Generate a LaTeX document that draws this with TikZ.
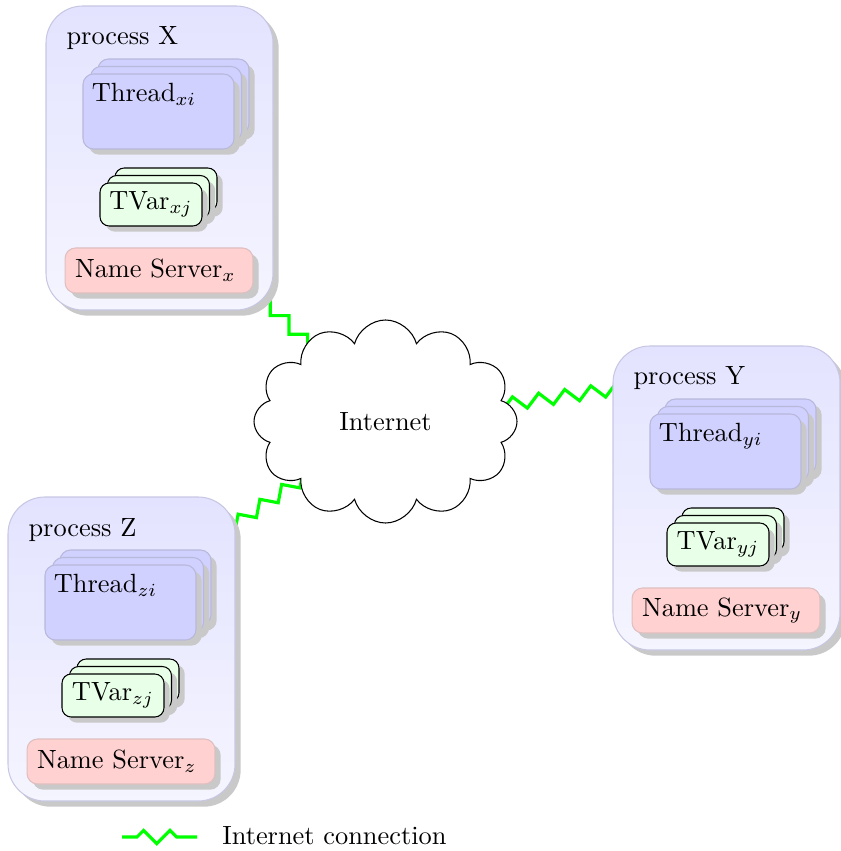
\documentclass[tikz,border=0pt]{standalone}
\usetikzlibrary{shapes.symbols,shadows,decorations.pathmorphing,calc}
\newdimen\pxu \pxu=0.37937pt
\pgfdeclarelayer{background}
\pgfsetlayers{background,main}
\tikzset{
  softshadow/.style={drop shadow={fill=black!21, opacity=1}},
  procbox/.style={draw=blue!50!black!22, top color=blue!11, bottom color=blue!4,
    rounded corners=14pt, minimum width=227\pxu, minimum height=304\pxu,
    inner sep=0pt, softshadow},
  threadbox/.style={draw=blue!50!black!28, fill=blue!18, rounded corners=4pt,
    minimum width=151\pxu, minimum height=75\pxu, inner sep=0pt, softshadow},
  tvarbox/.style={draw=black, fill=green!9, rounded corners=3.5pt,
    minimum width=102\pxu, minimum height=43\pxu, inner sep=0pt, softshadow},
  nsbox/.style={draw=red!50!black!25, fill=red!18, rounded corners=4pt,
    minimum height=45\pxu, inner xsep=3.8pt, inner ysep=0pt, text width=63.7pt,
    align=left, softshadow},
  link/.style={green, very thick, decorate,
    decoration={zigzag, segment length=10pt, amplitude=2.5pt, pre=lineto, pre length=#1}},
  link/.default=0pt,
}
% one process: #1 name, #2 index letter, (#3,#4) top left corner
\newcommand\procunit[4]{%
  \begin{scope}[shift={(#3,#4)}]
    \node[procbox] (#1) at (113.5,152) {};
    \node[anchor=base west, inner sep=0pt] (#1label) at (20,39) {process #1};
    \node[threadbox] (#1thread3) at (127.5,90.5) {};
    \node[threadbox] (#1thread2) at (120,98) {};
    \node[threadbox] (#1thread) at (112.5,105.5) {};
    \node[anchor=north west, inner sep=3.4pt] (#1threadtext) at (#1thread.north west) {Thread$_{#2i}$};
    \node[tvarbox] (#1tvar3) at (120,183.5) {};
    \node[tvarbox] (#1tvar2) at (112.5,191) {};
    \node[tvarbox] (#1tvar) at (105,198.5) {TVar$_{#2j}$};
    \node[nsbox] (#1ns) at (113,264.5) {Name Server$_{#2}$};
  \end{scope}}
\begin{document}
\begin{tikzpicture}[x=\pxu, y=-\pxu]
  \useasboundingbox (0,0) rectangle (841,851);

  \procunit{X}{x}{46}{6}
  \procunit{Y}{y}{613}{346}
  \procunit{Z}{z}{8}{497}

  \node[cloud, draw, fill=white, cloud puffs=12, cloud ignores aspect,
        minimum width=263\pxu, minimum height=203\pxu, inner sep=0pt]
        (cloud) at (385.5,421.5) {Internet};

  \coordinate (Xlink) at (205.5,241.5);
  \begin{pgfonlayer}{background}
    \draw[link=6.8pt] (cloud.center) -- (Xlink);
    \draw[link=6.5pt] (cloud.center) -- (Ylabel.center);
    \draw[link=8.5pt] (cloud.center) -- (Zthread.center);
  \end{pgfonlayer}

  % legend
  \coordinate (legA) at (122,837);
  \coordinate (legB) at (197,837);
  \draw[link, decoration={pre length=2mm, post=lineto, post length=2mm}] (legA) -- (legB);
  \node[anchor=west] (legtext) at (213,836) {Internet connection};
\end{tikzpicture}
\end{document}
